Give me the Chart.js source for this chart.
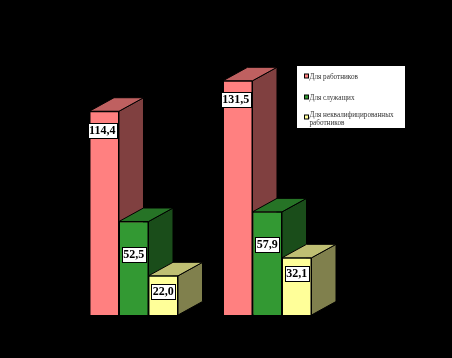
<!DOCTYPE html>
<html><head><meta charset="utf-8">
<script src="https://cdn.jsdelivr.net/npm/chart.js@4"></script>
<style>html,body{margin:0;padding:0;background:#000}canvas{display:block}</style>
</head><body><canvas id="c" width="452" height="358"></canvas>
<script>
const categories = ["A", "B"];
const workers = [114.4, 131.5];
const employees = [52.5, 57.9];
const unskilled = [22.0, 32.1];
const seriesNames = ["Для работников", "Для служащих", ["Для неквалифицированных", "работников"]];

const DEPTH_X = 24.5, DEPTH_Y = 13.5;
const serif = '"Liberation Serif","DejaVu Serif",serif';

function ds(label, data, front, top, side, drop, shift) {
  return {label, data, backgroundColor: front, borderColor: '#000', borderWidth: 1,
          topColor: top, sideColor: side, labelDrop: drop, labelShift: shift};
}
function poly(ctx, pts, fill) {
  ctx.beginPath();
  pts.forEach((p, i) => i ? ctx.lineTo(p[0], p[1]) : ctx.moveTo(p[0], p[1]));
  ctx.closePath();
  ctx.fillStyle = fill; ctx.fill();
  ctx.strokeStyle = '#000'; ctx.lineWidth = 1; ctx.stroke();
}
const faces3d = {
  id: 'faces3d',
  // series are painted left to right so each block overlaps the side of the one before it
  beforeDatasetDraw() { return false; },
  beforeDatasetsDraw(chart) {
    const ctx = chart.ctx;
    chart.data.datasets.forEach((d, i) => {
      chart.getDatasetMeta(i).data.forEach(b => {
        const l = b.x - b.width / 2, r = b.x + b.width / 2, t = b.y, z = b.base;
        ctx.save();
        poly(ctx, [[r, t], [r + DEPTH_X, t - DEPTH_Y], [r + DEPTH_X, z - DEPTH_Y], [r, z]], d.sideColor);
        poly(ctx, [[l, t], [l + DEPTH_X, t - DEPTH_Y], [r + DEPTH_X, t - DEPTH_Y], [r, t]], d.topColor);
        ctx.restore();
        b.draw(ctx);
      });
    });
  },
  afterDatasetsDraw(chart) {
    const ctx = chart.ctx;
    ctx.save();
    ctx.font = 'bold 12px ' + serif;
    ctx.textAlign = 'center'; ctx.textBaseline = 'middle';
    chart.data.datasets.forEach((d, i) => {
      chart.getDatasetMeta(i).data.forEach((b, j) => {
        const s = d.data[j].toFixed(1).replace('.', ',');
        const w = Math.round(ctx.measureText(s).width) + 3, h = 15;
        const cx = b.x + d.labelShift, cy = b.y + d.labelDrop;
        const x = Math.round(cx - w / 2) + .5, y = Math.round(cy - h / 2) + .5;
        ctx.fillStyle = '#fff'; ctx.fillRect(x, y, w, h);
        ctx.strokeStyle = '#000'; ctx.lineWidth = 1; ctx.strokeRect(x, y, w, h);
        ctx.fillStyle = '#000'; ctx.fillText(s, cx, cy + .5);
      });
    });
    // legend
    ctx.fillStyle = '#fff'; ctx.fillRect(297, 66, 108, 62);
    ctx.font = '7.2px ' + serif; ctx.textAlign = 'left'; ctx.textBaseline = 'middle';
    const rows = [77, 98, 115];
    chart.data.datasets.forEach((d, i) => {
      const sy = i === 2 ? 117.5 : rows[i] - .5;
      ctx.fillStyle = d.backgroundColor; ctx.fillRect(304.5, sy - 2.5, 4, 4);
      ctx.strokeStyle = '#000'; ctx.strokeRect(304.5, sy - 2.5, 4, 4);
      ctx.fillStyle = '#333';
      [].concat(d.label).forEach((t, k) => ctx.fillText(t, 309.5, rows[i] + k * 8));
    });
    ctx.restore();
  }
};
new Chart(document.getElementById('c'), {
  type: 'bar',
  data: {
    labels: categories,
    datasets: [
      ds(seriesNames[0], workers, '#FF8080', '#BF6060', '#804040', 19, -2),
      ds(seriesNames[1], employees, '#339933', '#267326', '#1A4D1A', 33, 0),
      ds(seriesNames[2], unskilled, '#FFFF99', '#BFBF73', '#80804D', 16, 0)
    ]
  },
  options: {
    responsive: false, animation: false,
    layout: {padding: {left: 67, right: 118, top: 30, bottom: 43}},
    plugins: {legend: {display: false}, tooltip: {enabled: false}},
    scales: {
      x: {display: false},
      y: {display: false, min: 0, max: 160}
    },
    datasets: {bar: {categoryPercentage: 0.663, barPercentage: 1}}
  },
  plugins: [faces3d]
});
</script></body></html>
